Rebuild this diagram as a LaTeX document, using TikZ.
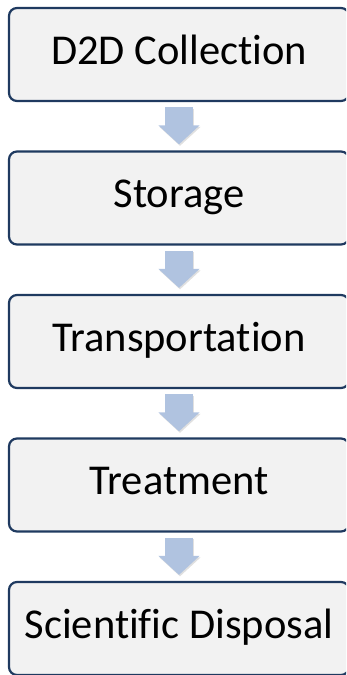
\documentclass[tikz,border=0pt]{standalone}
\usepackage{fontspec}
\setmainfont{Carlito}[Ligatures=NoCommon,RawFeature=-liga]
\usetikzlibrary{positioning,arrows.meta}
\definecolor{boxline}{HTML}{1F3A60}
\definecolor{boxfill}{HTML}{F2F2F2}
\definecolor{arrowblue}{HTML}{B0C3E0}
\begin{document}
\begin{tikzpicture}[x=1pt,y=1pt,
    stage/.style={draw=boxline,line width=2.2pt,fill=boxfill,rounded corners=8pt,
      minimum width=340pt,minimum height=93pt,inner sep=0pt,
      text height=28pt,text depth=9pt,font=\fontsize{42.5}{50}\selectfont},
    flow/.style={draw=arrowblue,line width=28pt,-{Triangle[width=40pt,length=19pt]}},
    flowshade/.style={draw=black,opacity=0.12,line width=28pt,-{Triangle[width=40pt,length=19pt]}}
  ]
  \useasboundingbox (0,0) rectangle (346,-675);
  \clip (0,0) rectangle (346,-675);
  % the stages, top to bottom
  \node[stage] (collect) at (179,-54.5) {D2D Collection};
  \node[stage,below=48.3pt of collect] (store) {Storage};
  \node[stage,below=48.3pt of store] (transport) {Transportation};
  \node[stage,below=48.3pt of transport] (treat) {Treatment};
  \node[stage,below=48.3pt of treat] (dispose) {Scientific Disposal};
  % block arrows between them
  \foreach \a/\b in {collect/store,store/transport,transport/treat,treat/dispose}{
    \draw[flowshade] ([xshift=1pt,yshift=-6.5pt]\a.south) -- ([xshift=1pt,yshift=4.5pt]\b.north);
    \draw[flow] ([yshift=-5pt]\a.south) -- ([yshift=6pt]\b.north);
  }
\end{tikzpicture}
\end{document}
